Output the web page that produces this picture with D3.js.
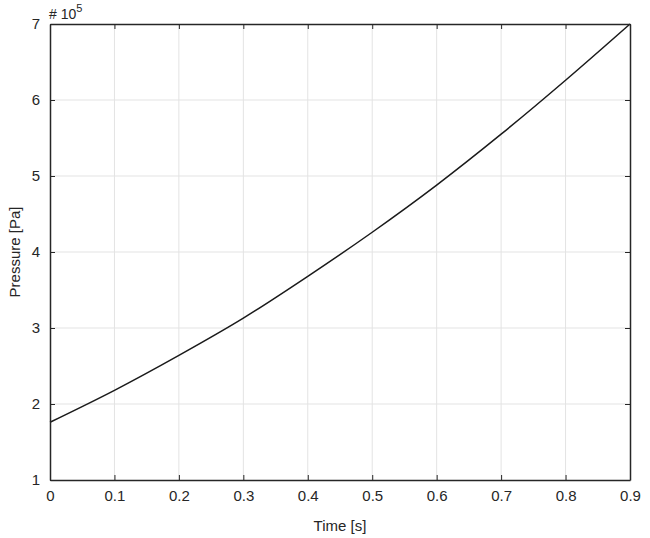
<!DOCTYPE html>
<html lang="en">
<head>
<meta charset="utf-8">
<title>Pressure vs Time</title>
<script src="https://cdnjs.cloudflare.com/ajax/libs/d3/7.7.0/d3.min.js"></script>
<style>
  body { margin: 0; background: #fff; }
  text { font-family: "Liberation Sans", Arial, sans-serif; fill: #262626; }
</style>
</head>
<body>
<div id="chart"></div>
<script>
// time [s] and pressure [x 10^5 Pa]
const times = [0, 0.1, 0.2, 0.3, 0.4, 0.5, 0.6, 0.7, 0.8, 0.9];
const pressures = [1.76, 2.18, 2.64, 3.13, 3.68, 4.26, 4.88, 5.55, 6.26, 7.0];
const xTicks = [0, 0.1, 0.2, 0.3, 0.4, 0.5, 0.6, 0.7, 0.8, 0.9];
const yTicks = [1, 2, 3, 4, 5, 6, 7];

const w = 650, h = 538;
const m = { top: 24, right: 20, bottom: 58, left: 50 };
const iw = w - m.left - m.right, ih = h - m.top - m.bottom;

const svg = d3.select("#chart").append("svg")
  .attr("width", w).attr("height", h);
const g = svg.append("g").attr("transform", `translate(${m.left},${m.top})`);

const x = d3.scaleLinear().domain([0, 0.9]).range([0, iw]);
const y = d3.scaleLinear().domain([1, 7]).range([ih, 0]);

// grid
g.append("g").selectAll("line").data(xTicks.slice(1, -1)).enter().append("line")
  .attr("x1", d => x(d)).attr("x2", d => x(d)).attr("y1", 0).attr("y2", ih)
  .attr("stroke", "#e3e3e3").attr("stroke-width", 1);
g.append("g").selectAll("line").data(yTicks.slice(1, -1)).enter().append("line")
  .attr("y1", d => y(d)).attr("y2", d => y(d)).attr("x1", 0).attr("x2", iw)
  .attr("stroke", "#e3e3e3").attr("stroke-width", 1);

// curve
const line = d3.line().x((d, i) => x(times[i])).y(d => y(d)).curve(d3.curveCatmullRom);
g.append("path").datum(pressures)
  .attr("d", line).attr("fill", "none")
  .attr("stroke", "#1a1a1a").attr("stroke-width", 1.5);

// axes (ticks inward, on all sides)
const styleAxis = sel => {
  sel.select(".domain").attr("stroke", "#262626").attr("stroke-width", 1.5);
  sel.selectAll(".tick line").attr("stroke", "#262626");
};
const xAxis = g.append("g").attr("transform", `translate(0,${ih})`)
  .call(d3.axisBottom(x).tickValues(xTicks).tickFormat(d3.format("~g"))
    .tickSizeInner(-5).tickSizeOuter(0).tickPadding(10))
  .call(styleAxis);
xAxis.selectAll("text").attr("font-size", 15).style("font-family", "Liberation Sans, Arial, sans-serif").attr("fill", "#262626");

const yAxis = g.append("g")
  .call(d3.axisLeft(y).tickValues(yTicks).tickFormat(d3.format("d"))
    .tickSizeInner(-5).tickSizeOuter(0).tickPadding(10))
  .call(styleAxis);
yAxis.selectAll("text").attr("font-size", 15).style("font-family", "Liberation Sans, Arial, sans-serif").attr("fill", "#262626");

g.append("g")
  .call(d3.axisTop(x).tickValues(xTicks).tickFormat("").tickSizeInner(-5).tickSizeOuter(0))
  .call(styleAxis);
g.append("g").attr("transform", `translate(${iw},0)`)
  .call(d3.axisRight(y).tickValues(yTicks).tickFormat("").tickSizeInner(-5).tickSizeOuter(0))
  .call(styleAxis);

// labels
svg.append("text").attr("x", m.left + iw / 2).attr("y", 531)
  .attr("text-anchor", "middle").attr("font-size", 15).text("Time [s]");
svg.append("text").attr("transform", `translate(20,${m.top + ih / 2}) rotate(-90)`)
  .attr("text-anchor", "middle").attr("font-size", 15).text("Pressure [Pa]");

const exp = svg.append("text").attr("x", 49).attr("y", 19).attr("font-size", 14);
exp.append("tspan").text("# 10");
exp.append("tspan").attr("dy", -7).attr("font-size", 11).text("5");
</script>
</body>
</html>
